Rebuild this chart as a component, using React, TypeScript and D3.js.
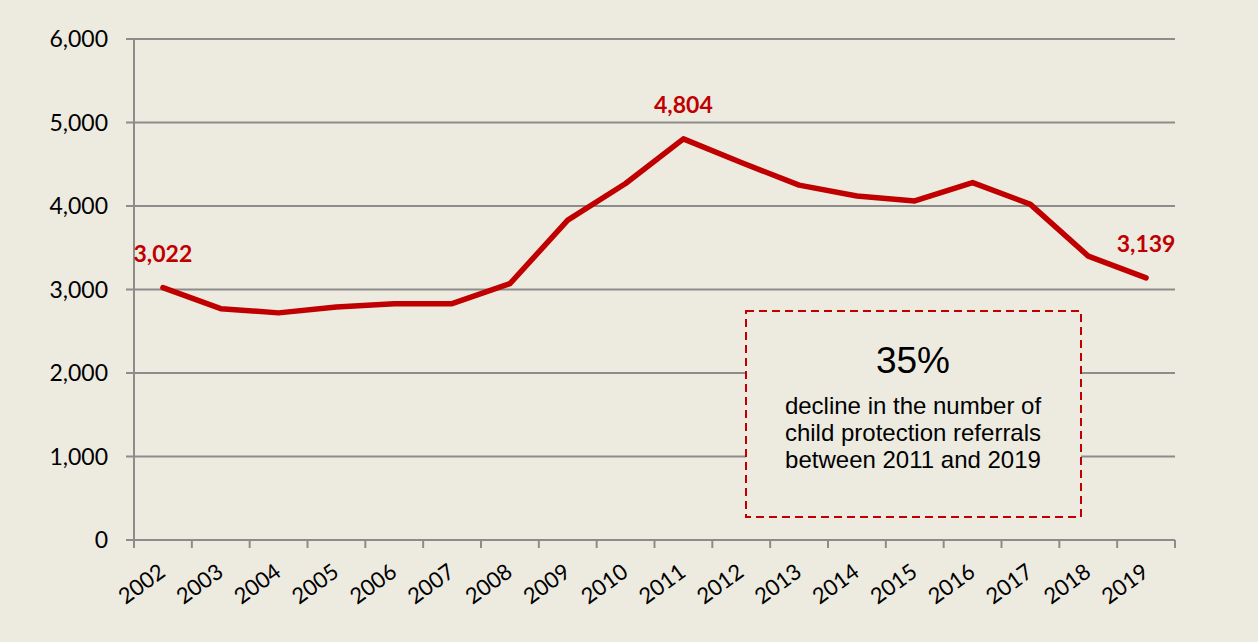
import React from "react";
import * as d3 from "d3";

const years = ["2002","2003","2004","2005","2006","2007","2008","2009","2010","2011","2012","2013","2014","2015","2016","2017","2018","2019"];
const referrals = [3022, 2770, 2720, 2790, 2830, 2830, 3070, 3830, 4270, 4804, 4520, 4250, 4120, 4060, 4280, 4020, 3400, 3139];
const yTicks = [0, 1000, 2000, 3000, 4000, 5000, 6000];
const labelledYears = ["2002", "2011", "2019"];
const boxTitle = "35%";
const boxLines = ["decline in the number of", "child protection referrals", "between 2011 and 2019"];

const W = 1258, H = 642;
const M = { left: 134, right: 1175, top: 39, bottom: 540 };
const BG = "#EDEBE0";
const RED = "#C00000";
const GRID = "#8C8C8C";
const FONT = "Lato, 'Open Sans', sans-serif";
const BOXFONT = "'Liberation Sans', Arial, sans-serif";

export default function App() {
  const x = d3.scaleBand<string>().domain(years).range([M.left, M.right]).padding(0);
  const y = d3.scaleLinear().domain([0, 6000]).range([M.bottom, M.top]);
  const cx = (yr: string) => (x(yr) as number) + x.bandwidth() / 2;
  const line = d3.line<number>().x((_, i) => cx(years[i])).y((v) => y(v));
  const fmt = d3.format(",");
  const boundaries = years.map((yr) => x(yr) as number).concat([M.right]);

  return (
    <div style={{ position: "fixed", left: 0, top: 0, width: W, height: H }}>
      <svg width={W} height={H} style={{ display: "block" }}>
        <rect x={0} y={0} width={W} height={H} fill={BG} />
        {yTicks.map((t) => (
          <g key={t}>
            <line x1={M.left - 8} x2={M.right} y1={y(t)} y2={y(t)} stroke={GRID} strokeWidth={2} />
            <text x={108} y={y(t)} dy="0.36em" textAnchor="end" fontFamily={FONT} fontSize={23} fill="#000">
              {fmt(t)}
            </text>
          </g>
        ))}
        <line x1={M.left} x2={M.left} y1={M.top} y2={M.bottom + 8} stroke={GRID} strokeWidth={2} />
        {boundaries.map((bx, i) => (
          <line key={i} x1={bx} x2={bx} y1={M.bottom} y2={M.bottom + 8} stroke={GRID} strokeWidth={2} />
        ))}
        {years.map((yr) => (
          <text
            key={yr}
            transform={`translate(${cx(yr) + 4},${M.bottom + 35}) rotate(-36)`}
            textAnchor="end"
            fontFamily={FONT}
            fontSize={22}
            fill="#000"
          >
            {yr}
          </text>
        ))}
        <path
          d={line(referrals) || ""}
          fill="none"
          stroke={RED}
          strokeWidth={5.5}
          strokeLinejoin="round"
          strokeLinecap="round"
        />
        {years.map((yr, i) =>
          labelledYears.includes(yr) ? (
            <text
              key={"l" + yr}
              x={cx(yr)}
              y={y(referrals[i]) - 34}
              dy="0.36em"
              textAnchor="middle"
              fontFamily={FONT}
              fontWeight="bold"
              fontSize={23}
              fill={RED}
            >
              {fmt(referrals[i])}
            </text>
          ) : null
        )}
        <rect x={746} y={311} width={335} height={206} fill={BG} stroke={RED} strokeWidth={2} strokeDasharray="8,5" />
        <text x={913} y={373} textAnchor="middle" fontFamily={BOXFONT} fontSize={37} fill="#000">
          {boxTitle}
        </text>
        {boxLines.map((l, i) => (
          <text
            key={i}
            x={913}
            y={414 + i * 27}
            textAnchor="middle"
            fontFamily={BOXFONT}
            fontSize={24}
            fill="#000"
          >
            {l}
          </text>
        ))}
      </svg>
    </div>
  );
}
